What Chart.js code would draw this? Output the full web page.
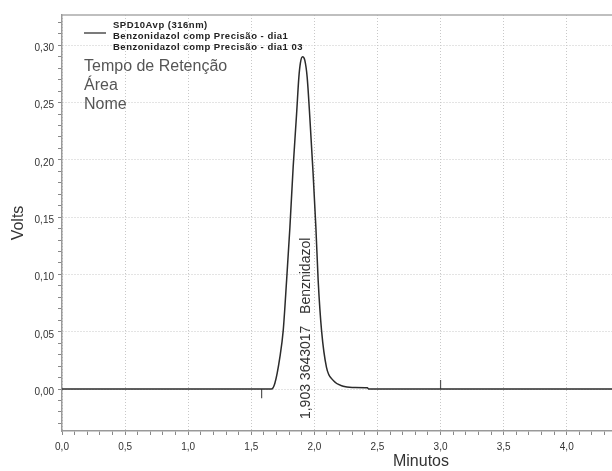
<!DOCTYPE html>
<html>
<head>
<meta charset="utf-8">
<script src="https://cdn.jsdelivr.net/npm/chart.js@4.4.1/dist/chart.umd.min.js"></script>
<style>
  html, body { margin: 0; padding: 0; background: #fff; overflow: hidden; }
  #wrap { width: 612px; height: 471px; overflow: hidden; }
</style>
</head>
<body>
<div id="wrap"><canvas id="chart" width="780" height="471"></canvas></div>
<script>
// chromatogram, SPD10Avp (316nm)
const tempo = [0, 1.66, 1.687, 1.727, 1.753, 1.780, 1.806, 1.832, 1.859, 1.877, 1.890, 1.906,
               1.924, 1.943, 1.964, 1.990, 2.012, 2.030, 2.057, 2.096, 2.149, 2.228, 2.30, 2.42, 2.43, 5.69];
const volts = [0, 0, 0.005, 0.028, 0.051, 0.095, 0.141, 0.194, 0.240, 0.272, 0.285, 0.290,
               0.287, 0.272, 0.237, 0.188, 0.141, 0.095, 0.051, 0.019, 0.0076, 0.0024, 0.0014, 0.0011, 0, 0];

// integration marks (start / end)
const marcaTempo = [1.582, 3.0];
const marcaAltura = [-0.008, 0.008];

// peak table
const picoTempo = [1.903];
const picoArea = [3643017];
const picoNome = ['Benznidazol'];

const legendaLinhas = ['SPD10Avp (316nm)', 'Benzonidazol comp Precisão - dia1', 'Benzonidazol comp Precisão - dia1 03'];
const infoLinhas = ['Tempo de Retenção', 'Área', 'Nome'];

const FONT = '"Liberation Sans", Arial, sans-serif';

function isMult(v, step) {
    const r = v / step;
    return Math.abs(r - Math.round(r)) < 1e-6;
}

const marcas = [];
marcaTempo.forEach((t, i) => {
    marcas.push({x: t, y: 0}, {x: t, y: marcaAltura[i]}, {x: t, y: null});
});

const extras = {
    id: 'extras',
    afterDraw(chart) {
        const ctx = chart.ctx;
        const a = chart.chartArea;
        const xs = chart.scales.x, ys = chart.scales.y;
        ctx.save();
        // top frame
        ctx.strokeStyle = '#aaa';
        ctx.lineWidth = 1.5;
        ctx.beginPath();
        ctx.moveTo(a.left, a.top);
        ctx.lineTo(a.right, a.top);
        ctx.stroke();

        // legend
        ctx.strokeStyle = '#222';
        ctx.lineWidth = 1.2;
        ctx.beginPath();
        ctx.moveTo(84, 33);
        ctx.lineTo(106, 33);
        ctx.stroke();
        ctx.fillStyle = '#222';
        ctx.font = 'bold 9.5px ' + FONT;
        ctx.letterSpacing = '0.5px';
        ctx.textBaseline = 'middle';
        ctx.textAlign = 'left';
        legendaLinhas.forEach((s, i) => ctx.fillText(s, 113, 25 + i * 11));
        ctx.letterSpacing = '0px';

        ctx.fillStyle = '#555';
        ctx.font = '16px ' + FONT;
        infoLinhas.forEach((s, i) => ctx.fillText(s, 84, 67 + i * 19));

        // peak label
        ctx.fillStyle = '#333';
        ctx.font = '14px ' + FONT;
        picoTempo.forEach((t, i) => {
            const txt = t.toFixed(3).replace('.', ',') + ' ' + picoArea[i] + '   ' + picoNome[i];
            ctx.save();
            ctx.translate(xs.getPixelForValue(t) + 4, ys.getPixelForValue(0) + 30);
            ctx.rotate(-Math.PI / 2);
            ctx.textAlign = 'left';
            ctx.textBaseline = 'middle';
            ctx.fillText(txt, 0, 0);
            ctx.restore();
        });
        ctx.restore();
    }
};

const ctx = document.getElementById('chart').getContext('2d');

new Chart(ctx, {
    type: 'line',
    data: {
        datasets: [{
            data: tempo.map((t, i) => ({x: t, y: volts[i]})),
            borderColor: '#2b2b2b',
            borderWidth: 1.5,
            pointRadius: 0,
            cubicInterpolationMode: 'monotone'
        },
        {
            data: marcas,
            borderColor: '#555',
            borderWidth: 1.2,
            pointRadius: 0,
            spanGaps: false
        }]
    },
    options: {
        responsive: false,
        animation: false,
        layout: {padding: {top: 15, right: 0, left: 0, bottom: 0}},
        plugins: {legend: {display: false}, tooltip: {enabled: false}},
        scales: {
            x: {
                type: 'linear',
                min: 0,
                max: 5.69,
                afterFit: s => { s.height = 40; },
                ticks: {
                    stepSize: 0.1, autoSkip: false, includeBounds: false, maxRotation: 0,
                    padding: 6, color: '#333', font: {family: FONT, size: 10},
                    callback: v => isMult(v, 0.5) ? v.toFixed(1).replace('.', ',') : ''
                },
                grid: {
                    color: c => (c.tick && isMult(c.tick.value, 0.5)) ? '#c8c8c8' : 'rgba(0,0,0,0)',
                    lineWidth: 1, tickLength: 4, tickColor: '#888'
                },
                border: {color: '#999', width: 1.5, dash: [1, 2]},
                title: {display: true, text: 'Minutos', color: '#333', font: {family: FONT, size: 16}, padding: 0}
            },
            y: {
                min: -0.0366,
                max: 0.3264,
                afterFit: s => { s.width = 62; },
                ticks: {
                    stepSize: 0.01, autoSkip: false, includeBounds: false,
                    padding: 4, labelOffset: 3, color: '#333', font: {family: FONT, size: 10},
                    callback: v => isMult(v, 0.05) ? v.toFixed(2).replace('.', ',') : ''
                },
                grid: {
                    color: c => (c.tick && isMult(c.tick.value, 0.05)) ? '#c8c8c8' : 'rgba(0,0,0,0)',
                    lineWidth: 1, tickLength: 4, tickColor: '#888'
                },
                border: {color: '#999', width: 1.5, dash: [1, 2]},
                title: {display: true, text: 'Volts', color: '#333', font: {family: FONT, size: 16}, padding: {top: 9, bottom: 0}}
            }
        }
    },
    plugins: [extras]
});
</script>
</body>
</html>
